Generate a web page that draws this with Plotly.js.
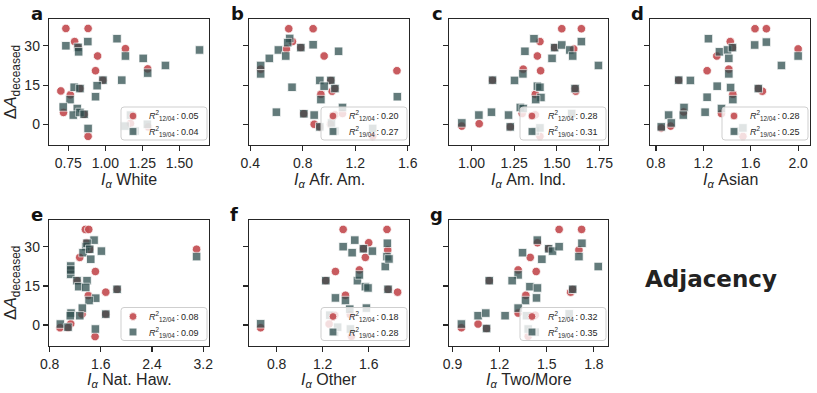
<!DOCTYPE html>
<html>
<head>
<meta charset="utf-8">
<script src="https://cdn.plot.ly/plotly-3.0.1.min.js"></script>
<style>
html, body { margin: 0; padding: 0; background: #fff; }
#chart { width: 817px; height: 393px; }
</style>
</head>
<body>
<div id="chart"></div>
<script>
// [I_alpha, delta A deceased], per panel
// "12" = 12/04 series (red circles), "19" = 19/04 series (grey squares)
const white12 = [[0.734,36.6],[0.884,36.6],[0.793,31.6],[1.136,28.9],[0.948,26.1],[0.934,20.5],[1.286,21.2],[0.984,16.9],[0.700,12.8],[0.764,11.3],[0.829,13.7],[0.718,4.6],[0.857,3.9],[0.884,-4.5],[0.816,29.4],[1.17,0.4],[1.29,-0.9]];
const white19 = [[0.734,30.0],[0.816,29.4],[0.82,27.7],[0.882,31.6],[1.079,32.7],[1.136,26.1],[1.256,25.2],[1.636,28.4],[1.406,22.5],[1.286,19.6],[1.111,16.9],[0.984,16.9],[0.945,14.8],[0.790,14.2],[0.829,13.7],[0.762,9.5],[0.716,6.7],[0.811,6.1],[0.784,3.6],[0.829,4.6],[0.857,3.9],[0.934,10.6],[0.884,-1.5],[1.202,-2.5],[1.17,3.6],[1.134,-0.6],[1.284,0.1]];

const afram12 = [[0.693,36.5],[0.879,36.5],[0.721,31.6],[0.675,28.8],[0.963,26.1],[1.518,20.5],[0.479,21.1],[0.785,29.3],[0.938,11.5],[1.024,12.7],[1.045,13.7],[1.014,16.8],[0.808,4.1],[0.887,0.1],[0.930,-0.9],[1.045,3.7],[1.103,4.2],[1.011,0.1],[1.333,-4.5]];
const afram19 = [[0.700,32.8],[0.685,31.2],[0.614,28.4],[0.545,25.2],[0.479,22.5],[0.479,19.3],[0.670,26.1],[0.785,29.3],[0.879,30.4],[1.073,27.9],[0.718,14.2],[0.930,16.8],[1.014,16.8],[0.963,14.6],[1.045,13.7],[0.938,9.5],[0.599,4.7],[0.808,4.1],[0.887,3.6],[0.930,-0.9],[1.045,-2.5],[1.521,10.6],[1.103,6.5],[1.019,0.6],[1.333,-1.5]];

const amind12 = [[1.529,36.5],[1.644,36.5],[1.401,31.6],[1.599,28.8],[1.386,26.1],[1.405,20.5],[1.303,21.1],[1.487,29.3],[1.123,16.9],[1.374,11.5],[1.611,12.7],[1.607,13.7],[0.943,-0.6],[1.045,0.3],[1.227,-0.9],[1.297,4.2],[1.374,3.7],[1.401,-4.5]];
const amind19 = [[1.366,32.7],[1.313,27.9],[1.487,29.3],[1.529,30.3],[1.576,28.4],[1.644,31.6],[1.593,26.1],[1.472,25.2],[1.744,22.5],[1.301,19.3],[1.252,16.8],[1.123,16.9],[1.386,14.6],[1.401,14.2],[1.607,13.7],[1.407,10.3],[1.376,9.5],[1.286,6.5],[1.303,6.1],[1.117,4.7],[1.043,3.6],[1.217,3.6],[0.943,0.6],[1.227,-0.9],[1.374,-2.5],[1.401,-1.3],[1.587,4.2]];

const asian12 = [[1.636,36.5],[1.732,36.5],[1.427,31.6],[2.0,28.8],[1.314,26.1],[1.232,20.5],[1.415,21.1],[1.446,29.3],[0.992,16.9],[1.449,11.5],[1.698,12.7],[1.664,13.7],[1.034,4.8],[0.924,-0.6],[0.845,-1.3],[1.353,4.2],[1.534,-4.5]];
const asian19 = [[1.243,32.7],[1.336,27.7],[1.404,28.4],[1.446,29.3],[1.633,30.3],[1.732,31.4],[1.415,25.2],[1.859,22.5],[2.0,26.1],[1.415,19.3],[1.091,16.8],[0.992,16.9],[1.317,14.6],[1.430,14.1],[1.664,13.7],[1.232,10.4],[1.449,9.5],[1.037,6.5],[1.031,3.6],[1.215,4.7],[1.353,6.1],[0.907,3.6],[0.930,0.6],[0.845,-0.9],[1.472,-2.5],[1.534,-1.3]];

const nathaw12 = [[1.358,36.6],[1.411,36.6],[1.374,31.5],[3.096,29.0],[1.270,25.9],[1.515,20.5],[1.129,21.1],[1.426,29.0],[1.677,12.6],[1.405,11.3],[1.854,13.7],[1.306,4.2],[1.677,4.2],[1.129,0.5],[0.962,-1.0],[1.087,-1.0],[1.510,-4.4],[1.228,17.0]];
const nathaw19 = [[1.494,32.5],[1.364,30.0],[1.384,31.3],[1.322,27.7],[1.426,29.0],[1.609,28.3],[1.442,25.2],[3.096,26.2],[1.129,22.6],[1.129,19.4],[1.129,21.1],[1.228,17.0],[1.384,17.0],[1.254,14.7],[1.364,14.4],[1.854,13.7],[1.520,10.3],[1.416,9.4],[1.311,6.5],[1.134,4.6],[1.123,3.6],[1.270,3.6],[1.677,4.2],[0.967,0.4],[1.087,-0.8],[1.515,-1.5]];

const other12 = [[1.378,36.6],[1.759,36.6],[1.600,31.5],[1.765,28.7],[1.571,25.9],[1.311,20.5],[1.519,21.1],[1.554,29.2],[1.227,17.0],[1.398,11.4],[1.851,12.6],[1.768,13.7],[0.661,-1.0],[1.305,3.8],[1.256,0.4],[1.450,-4.3],[1.44,4.0]];
const other19 = [[1.378,30.0],[1.479,32.5],[1.456,27.7],[1.554,29.2],[1.632,28.3],[1.762,31.3],[1.744,22.4],[1.759,26.2],[1.776,25.3],[1.502,17.0],[1.227,17.0],[1.519,19.2],[1.571,14.7],[1.594,14.2],[1.768,13.7],[1.311,10.4],[1.398,9.4],[0.661,0.5],[1.303,-2.7],[1.435,6.1],[1.580,6.5],[1.262,3.8],[1.441,-1.5],[1.33,-0.8]];

const twomore12 = [[1.579,36.6],[1.722,36.6],[1.441,31.5],[1.705,28.7],[1.395,25.9],[1.433,20.5],[1.318,21.1],[1.512,29.2],[1.134,17.0],[1.367,11.4],[1.652,12.6],[1.665,13.7],[0.957,-1.0],[1.063,0.4],[1.117,-1.3],[1.318,4.6],[1.427,3.8],[1.382,-4.3]];
const twomore19 = [[1.440,32.5],[1.346,27.7],[1.512,29.2],[1.537,28.3],[1.579,30.0],[1.724,31.3],[1.705,26.2],[1.469,25.2],[1.828,22.4],[1.318,19.2],[1.280,17.0],[1.134,17.0],[1.393,14.7],[1.441,14.2],[1.665,13.7],[1.365,9.4],[1.435,10.4],[1.318,6.5],[1.235,3.6],[1.063,3.6],[1.112,4.6],[0.957,0.4],[1.117,-1.3],[1.427,-2.7],[1.371,3.6],[1.382,-1.5],[1.643,4.3]];

const groups = ['White', 'Afr. Am.', 'Am. Ind.', 'Asian', 'Nat. Haw.', 'Other', 'Two/More'];
const letters = ['a', 'b', 'c', 'd', 'e', 'f', 'g'];
const r2dec12 = ['0.05', '0.20', '0.28', '0.28', '0.08', '0.18', '0.32'];
const r2dec19 = ['0.04', '0.27', '0.31', '0.25', '0.09', '0.28', '0.35'];
const yTicks = [0, 15, 30];

const series12 = [white12, afram12, amind12, asian12, nathaw12, other12, twomore12];
const series19 = [white19, afram19, amind19, asian19, nathaw19, other19, twomore19];

// axis look per panel
const xRanges = [[0.62,1.70],[0.39,1.61],[0.868,1.80],[0.75,2.10],[0.79,3.29],[0.56,1.95],[0.878,1.89]];
const xSteps = [0.25, 0.4, 0.25, 0.4, 0.8, 0.4, 0.3];
const xFormats = ['.2f', '.1f', '.2f', '.1f', '.1f', '.1f', '.1f'];

const W = 817, H = 393;
const colPx = [[49,209],[249,409],[449,608],[650,810]];
const rowPx = [[19,145],[220,345.5]];
const xTitleTopPx = [169.5, 369.5];
const letterPx = [[36.5,13],[237,13],[437.5,13],[637,13],[36.5,214],[234,214],[436.5,214]];

const ink = '#262626';
const sans = 'Liberation Sans, Arial, sans-serif';
const red = '#c44e52', slate = '#2f4f4f';
const PX = v => v / W, PY = v => 1 - v / H;

let traces = [];
let shapes = [];
let annotations = [];

// legend box, drawn by hand so it keeps the compact matplotlib size
function legendBox(cx, ry, i) {
  let R = cx[1] - 2, B = ry[1] - 5, L = R - 86, T = B - 33, r = 3;
  shapes.push({
    type: 'path', xref: 'paper', yref: 'paper', layer: 'above',
    path: `M ${PX(L+r)},${PY(T)} L ${PX(R-r)},${PY(T)} Q ${PX(R)},${PY(T)} ${PX(R)},${PY(T+r)} ` +
          `L ${PX(R)},${PY(B-r)} Q ${PX(R)},${PY(B)} ${PX(R-r)},${PY(B)} L ${PX(L+r)},${PY(B)} ` +
          `Q ${PX(L)},${PY(B)} ${PX(L)},${PY(B-r)} L ${PX(L)},${PY(T+r)} Q ${PX(L)},${PY(T)} ${PX(L+r)},${PY(T)} Z`,
    fillcolor: 'rgba(255,255,255,0.8)', line: {color: '#cfcfcf', width: 1}
  });
  let mx = L + 12, y1 = T + 9, y2 = T + 24.5, s = 3.9;
  shapes.push({type: 'circle', xref: 'paper', yref: 'paper', layer: 'above',
    x0: PX(mx - s), x1: PX(mx + s), y0: PY(y1 + s), y1: PY(y1 - s),
    fillcolor: red, opacity: 0.92, line: {color: '#fff', width: 0.8}});
  shapes.push({type: 'rect', xref: 'paper', yref: 'paper', layer: 'above',
    x0: PX(mx - s), x1: PX(mx + s), y0: PY(y2 + s), y1: PY(y2 - s),
    fillcolor: slate, opacity: 0.75, line: {color: '#fff', width: 0.8}});
  [[y1, '12/04', r2dec12[i]], [y2, '19/04', r2dec19[i]]].forEach(([yy, tag, val]) => {
    annotations.push({
      xref: 'paper', yref: 'paper', x: PX(L + 27), y: PY(yy),
      xanchor: 'left', yanchor: 'middle', showarrow: false, borderpad: 0,
      text: '<i>R</i><sup>2</sup><sub>' + tag + '</sub>\u2009:\u2009' + val,
      font: {size: 9, family: sans, color: ink}
    });
  });
}

let layout = {
  width: W, height: H,
  margin: {l: 0, r: 0, t: 0, b: 0},
  paper_bgcolor: '#fff', plot_bgcolor: '#fff',
  font: {family: sans, color: ink},
  showlegend: false
};

for (let i = 0; i < 7; i++) {
  let row = i < 4 ? 0 : 1;
  let col = i < 4 ? i : i - 4;
  let sfx = i === 0 ? '' : String(i + 1);
  let xa = 'x' + sfx, ya = 'y' + sfx;

  traces.push({
    type: 'scatter', mode: 'markers',
    x: series12[i].map(p => p[0]), y: series12[i].map(p => p[1]),
    xaxis: xa, yaxis: ya, name: '12/04',
    marker: {symbol: 'circle', size: 8.5, color: red, opacity: 0.92, line: {color: '#fff', width: 0.8}},
    hoverinfo: 'skip'
  });
  traces.push({
    type: 'scatter', mode: 'markers',
    x: series19[i].map(p => p[0]), y: series19[i].map(p => p[1]),
    xaxis: xa, yaxis: ya, name: '19/04',
    marker: {symbol: 'square', size: 8.5, color: slate, opacity: 0.75, line: {color: '#fff', width: 0.8}},
    hoverinfo: 'skip'
  });

  let cx = colPx[col], ry = rowPx[row];
  layout['xaxis' + sfx] = {
    domain: [cx[0] / W, cx[1] / W], anchor: ya,
    range: xRanges[i], tick0: 0, dtick: xSteps[i], tickformat: xFormats[i],
    showline: true, mirror: true, linecolor: ink, linewidth: 1.25,
    ticks: 'outside', ticklen: 5, tickwidth: 1.25, tickcolor: ink,
    showgrid: false, zeroline: false,
    tickfont: {size: 14, family: sans, color: ink}
  };
  let yax = {
    domain: [1 - ry[1] / H, 1 - ry[0] / H], anchor: xa,
    range: [-7.8, 40.2], tickvals: yTicks,
    showticklabels: col === 0,
    showline: true, mirror: true, linecolor: ink, linewidth: 1.25,
    ticks: 'outside', ticklen: 5, tickwidth: 1.25, tickcolor: ink,
    showgrid: false, zeroline: false,
    tickfont: {size: 14, family: sans, color: ink}
  };
  if (col === 0) {
    yax.title = {text: 'Δ<i>A</i><sub>deceased</sub>', font: {size: 17, family: sans, color: ink}, standoff: 3};
  }
  layout['yaxis' + sfx] = yax;

  // x title as a paper note, so it sits as close to the tick labels as in the source
  annotations.push({
    xref: 'paper', yref: 'paper',
    x: PX((cx[0] + cx[1]) / 2), y: PY(xTitleTopPx[row]),
    xanchor: 'center', yanchor: 'top', showarrow: false, borderpad: 0,
    text: '<i>I</i><sub><i>α</i></sub> ' + groups[i],
    font: {size: 16, family: sans, color: ink}
  });

  legendBox(cx, ry, i);

  annotations.push({
    xref: 'paper', yref: 'paper',
    x: PX(letterPx[i][0]), y: PY(letterPx[i][1]),
    xanchor: 'center', yanchor: 'middle', showarrow: false,
    text: '<b>' + letters[i] + '</b>',
    font: {size: 18, family: 'DejaVu Sans, sans-serif', color: '#111'}
  });
}

annotations.push({
  xref: 'paper', yref: 'paper',
  x: PX(711), y: PY(279), xanchor: 'center', yanchor: 'middle', showarrow: false,
  text: '<b>Adjacency</b>',
  font: {size: 23, family: 'DejaVu Sans, sans-serif', color: '#222'}
});

layout.shapes = shapes;
layout.annotations = annotations;

Plotly.newPlot('chart', traces, layout, {displayModeBar: false, staticPlot: true});
</script>
</body>
</html>
